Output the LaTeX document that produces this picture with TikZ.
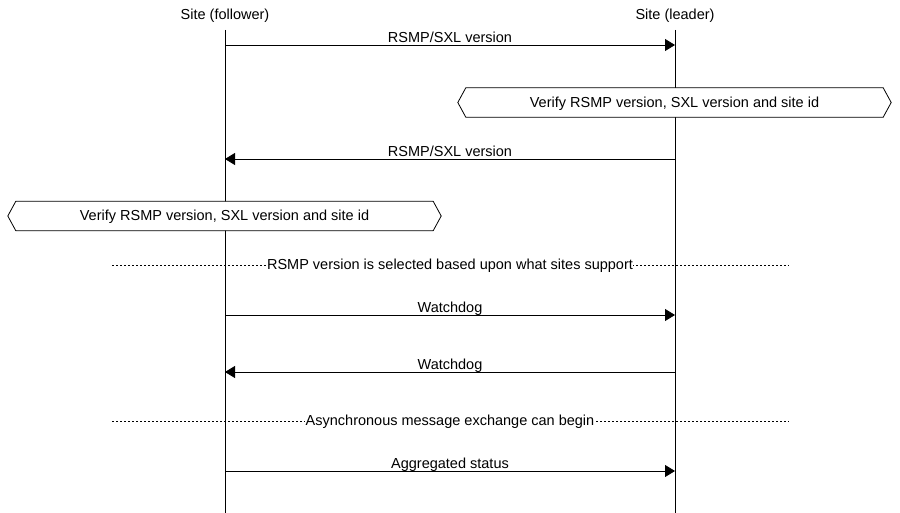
\documentclass[tikz,border=0pt]{standalone}
\usepackage{fontspec}
\setmainfont{Liberation Sans}
\usetikzlibrary{arrows.meta,calc}
\tikzset{
  lifeline/.style={line width=0.8pt},
  msg/.style={line width=0.8pt,-{Triangle[length=10pt,width=12pt]}},
  msglabel/.style={font=\fontsize{14.5}{16}\selectfont,inner sep=0pt,anchor=base,yshift=2.5pt},
  hexbox/.style={minimum width=417pt,minimum height=29pt,inner sep=0pt,font=\fontsize{14.5}{16}\selectfont},
  hexline/.style={line width=0.8pt},
  divider/.style={line width=0.9pt,dash pattern=on 2pt off 2pt},
  divlabel/.style={fill=white,inner sep=0.5pt,font=\fontsize{14.5}{16}\selectfont},
  actor/.style={font=\fontsize{14.5}{16}\selectfont,inner sep=0pt}
}
\begin{document}
\begin{tikzpicture}[x=1pt,y=-1pt]
\useasboundingbox (0,0) rectangle (900,513);
% actors
\node[actor] (fol) at (225,16) {Site (follower)};
\node[actor] (lea) at (675,16) {Site (leader)};
\coordinate (ftop) at (225,30);
\coordinate (ltop) at (675,30);
\coordinate (fbot) at (225,513);
\coordinate (lbot) at (675,513);
\draw[lifeline] (ftop) -- (fbot);
\draw[lifeline] (ltop) -- (lbot);
% row coordinates
\foreach \n/\y in {1/45,2/159,3/315,4/372,5/471}{
  \coordinate (f\n) at (225,\y);
  \coordinate (l\n) at (675,\y);
}
% messages
\draw[msg] (f1) -- (l1) node[msglabel,pos=0.5] (m1) {RSMP/SXL version};
% hex box 1
\node[hexbox] (h1) at (674.5,102.5) {};
\fill[white] (h1.north west) -- (h1.north east) -- ($(h1.east)+(8,0)$) -- (h1.south east) -- (h1.south west) -- ($(h1.west)+(-8,0)$) -- cycle;
\draw[hexline] (h1.north west) -- (h1.north east) -- ($(h1.east)+(8,0)$) -- (h1.south east) -- (h1.south west) -- ($(h1.west)+(-8,0)$) -- cycle;
\node[hexbox] (h1t) at ($(h1.center)+(0,1)$) {Verify RSMP version, SXL version and site id};
\draw[msg] (l2) -- (f2) node[msglabel,pos=0.5] (m2) {RSMP/SXL version};
% hex box 2
\node[hexbox] (h2) at (224.5,216) {};
\fill[white] (h2.north west) -- (h2.north east) -- ($(h2.east)+(8,0)$) -- (h2.south east) -- (h2.south west) -- ($(h2.west)+(-8,0)$) -- cycle;
\draw[hexline] (h2.north west) -- (h2.north east) -- ($(h2.east)+(8,0)$) -- (h2.south east) -- (h2.south west) -- ($(h2.west)+(-8,0)$) -- cycle;
\node[hexbox] (h2t) at ($(h2.center)+(0,1)$) {Verify RSMP version, SXL version and site id};
% divider 1
\coordinate (d1a) at (112,265);
\coordinate (d1b) at (789,265);
\draw[divider] (d1a) -- (d1b);
\node[divlabel] (dl1) at (450,265.5) {RSMP version is selected based upon what sites support};
% watchdogs
\draw[msg] (f3) -- (l3) node[msglabel,pos=0.5] (m3) {Watchdog};
\draw[msg] (l4) -- (f4) node[msglabel,pos=0.5] (m4) {Watchdog};
% divider 2
\coordinate (d2a) at (112,421);
\coordinate (d2b) at (789,421);
\draw[divider] (d2a) -- (d2b);
\node[divlabel] (dl2) at (450,421.5) {Asynchronous message exchange can begin};
% aggregated
\draw[msg] (f5) -- (l5) node[msglabel,pos=0.5] (m5) {Aggregated status};
\end{tikzpicture}
\end{document}
